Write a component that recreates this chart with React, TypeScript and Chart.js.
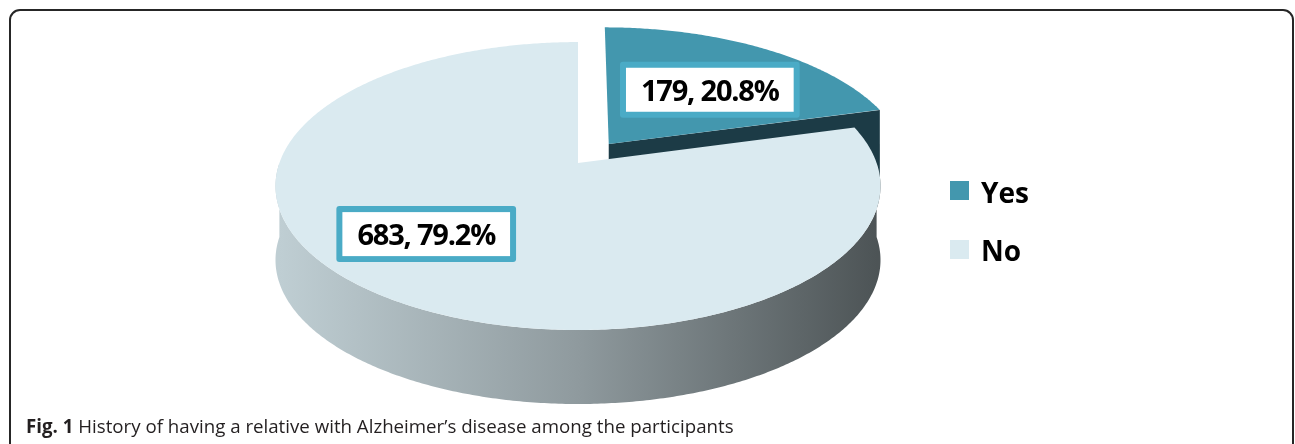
import React, { useEffect, useRef } from "react";
import { Chart, registerables } from "chart.js";

Chart.register(...registerables);

// ---- data ----
const categories = ["Yes", "No"];
const counts = [179, 683];
const percents = [20.8, 79.2];
const topColors = ["#4397ae", "#daeaf0"];
const captionLead = "Fig. 1";
const captionText = "History of having a relative with Alzheimer\u2019s disease among the participants";

// ---- perspective projection of the flat pie (circle space -> tilted disc) ----
function makeProjector(chart: any, opts: any) {
  const arc0 = chart.getDatasetMeta(0).data[0];
  const p = arc0.getProps(["x", "y", "outerRadius"], true);
  const X = p.x;
  const Y = p.y;
  const R = p.outerRadius;
  return (px: number, py: number): [number, number] => {
    const u = (px - X) / R;
    const v = (py - Y) / R;
    const w = 1 + opts.perspective * v;
    return [X + (opts.scaleX * R * u) / w, Y + (opts.scaleY * R * v) / w];
  };
}

// a context wrapper: Chart.js draws each arc through it, and its path points are projected
function projectedContext(real: CanvasRenderingContext2D, project: (x: number, y: number) => [number, number]) {
  let tx = 0;
  let ty = 0;
  const stack: [number, number][] = [];
  let hasPoint = false;
  const put = (x: number, y: number) => {
    const q = project(x + tx, y + ty);
    if (hasPoint) real.lineTo(q[0], q[1]);
    else real.moveTo(q[0], q[1]);
    hasPoint = true;
  };
  const handler: ProxyHandler<any> = {
    get(_t, prop) {
      switch (prop) {
        case "save":
          return () => {
            stack.push([tx, ty]);
            real.save();
          };
        case "restore":
          return () => {
            const s = stack.pop();
            if (s) [tx, ty] = s;
            real.restore();
          };
        case "translate":
          return (dx: number, dy: number) => {
            tx += dx;
            ty += dy;
          };
        case "beginPath":
          return () => {
            hasPoint = false;
            real.beginPath();
          };
        case "moveTo":
          return (x: number, y: number) => {
            hasPoint = false;
            put(x, y);
          };
        case "lineTo":
          return (x: number, y: number) => put(x, y);
        case "closePath":
          return () => real.closePath();
        case "arc":
          return (x: number, y: number, r: number, a0: number, a1: number, ccw?: boolean) => {
            if (![x, y, r, a0, a1].every((n) => Number.isFinite(n))) return;
            const TAU = Math.PI * 2;
            let sweep = a1 - a0;
            if (!ccw) {
              if (sweep >= TAU) sweep = TAU;
              else while (sweep < 0) sweep += TAU;
            } else {
              if (-sweep >= TAU) sweep = -TAU;
              else while (sweep > 0) sweep -= TAU;
            }
            const n = Math.max(2, Math.ceil(Math.abs(sweep) / 0.01));
            for (let i = 0; i <= n; i++) {
              const a = a0 + (sweep * i) / n;
              put(x + r * Math.cos(a), y + r * Math.sin(a));
            }
          };
      }
      const v = (real as any)[prop];
      return typeof v === "function" ? v.bind(real) : v;
    },
    set(_t, prop, value) {
      (real as any)[prop] = value;
      return true;
    },
  };
  return new Proxy(real, handler);
}

function arcGeometry(arc: any) {
  const p = arc.getProps(["x", "y", "startAngle", "endAngle", "outerRadius", "circumference"], true);
  const off = (arc.options.offset || 0) / 4;
  const mid = (p.startAngle + p.endAngle) / 2;
  const fix = 1 - Math.sin(Math.min(Math.PI, p.circumference));
  return {
    cx: p.x + Math.cos(mid) * off,
    cy: p.y + Math.sin(mid) * off,
    R: p.outerRadius + off * fix,
    r0: p.outerRadius,
    s: p.startAngle,
    e: p.endAngle,
    mid,
  };
}

// ---- 3D pie plugin ----
const pie3d = {
  id: "pie3d",
  beforeDatasetsDraw(chart: any, _args: any, opts: any) {
    const ctx: CanvasRenderingContext2D = chart.ctx;
    const arcs = chart.getDatasetMeta(0).data;
    if (!arcs.length) return;
    const project = makeProjector(chart, opts);
    const D = opts.depth;
    const items = arcs.map((arc: any, i: number) => ({ arc, i, g: arcGeometry(arc) }));
    items.sort((a: any, b: any) => project(a.g.cx, a.g.cy)[1] - project(b.g.cx, b.g.cy)[1]);

    // side walls
    for (const { i, g } of items) {
      ctx.save();
      const stops = opts.sideGradients[i];
      if (stops) {
        const l = project(g.cx - g.R, g.cy)[0];
        const r = project(g.cx + g.R, g.cy)[0];
        const gr = ctx.createLinearGradient(l, 0, r, 0);
        stops.forEach((c: string, j: number) => gr.addColorStop(j / (stops.length - 1), c));
        ctx.fillStyle = gr;
      } else {
        ctx.fillStyle = opts.sideColors[i];
      }
      const rim = (th: number) => project(g.cx + g.R * Math.cos(th), g.cy + g.R * Math.sin(th));
      const apex = project(g.cx, g.cy);
      const faces: number[] = [];
      if (Math.cos(g.s) < -0.01) faces.push(g.s);
      if (Math.cos(g.e) > 0.01) faces.push(g.e);
      for (const th of faces) {
        const q = rim(th);
        ctx.beginPath();
        ctx.moveTo(apex[0], apex[1]);
        ctx.lineTo(q[0], q[1]);
        ctx.lineTo(q[0], q[1] + D);
        ctx.lineTo(apex[0], apex[1] + D);
        ctx.closePath();
        ctx.fill();
      }
      for (const shift of [-2 * Math.PI, 0, 2 * Math.PI]) {
        const lo = Math.max(g.s, shift);
        const hi = Math.min(g.e, Math.PI + shift);
        if (hi <= lo) continue;
        const n = Math.max(2, Math.ceil((hi - lo) / 0.01));
        const pts: [number, number][] = [];
        for (let k = 0; k <= n; k++) pts.push(rim(lo + ((hi - lo) * k) / n));
        ctx.beginPath();
        pts.forEach((q, k) => (k ? ctx.lineTo(q[0], q[1]) : ctx.moveTo(q[0], q[1])));
        for (let k = pts.length - 1; k >= 0; k--) ctx.lineTo(pts[k][0], pts[k][1] + D);
        ctx.closePath();
        ctx.fill();
      }
      ctx.restore();
    }

    // top faces: drawn by Chart.js's own arc elements through the projecting context
    const pctx = projectedContext(ctx, project);
    for (const { arc } of items) arc.draw(pctx);
    return false;
  },
};

// ---- data label plugin ----
const pieLabels = {
  id: "pieLabels",
  afterDraw(chart: any, _args: any, opts: any) {
    const ctx: CanvasRenderingContext2D = chart.ctx;
    const arcs = chart.getDatasetMeta(0).data;
    if (!arcs.length) return;
    const project = makeProjector(chart, chart.options.plugins.pie3d);
    arcs.forEach((arc: any, i: number) => {
      const g = arcGeometry(arc);
      const ang = g.mid + (opts.angleShift[i] * Math.PI) / 180;
      const f = opts.radiusFraction[i];
      const [lx, ly] = project(g.cx + Math.cos(ang) * g.r0 * f, g.cy + Math.sin(ang) * g.r0 * f);
      const text = `${counts[i]}, ${percents[i].toFixed(1)}%`;
      ctx.save();
      ctx.font = opts.font;
      (ctx as any).letterSpacing = opts.letterSpacing;
      const tw = ctx.measureText(text).width;
      const bw = opts.borderWidth;
      const w = tw + 2 * opts.padX + 2 * bw;
      const h = opts.boxHeight;
      const x0 = lx - w / 2;
      const y0 = ly - h / 2;
      ctx.fillStyle = opts.borderColor;
      ctx.beginPath();
      (ctx as any).roundRect(x0, y0, w, h, 3);
      ctx.fill();
      ctx.fillStyle = "#ffffff";
      ctx.fillRect(x0 + bw, y0 + bw, w - 2 * bw, h - 2 * bw);
      ctx.fillStyle = "#000000";
      ctx.textAlign = "left";
      ctx.textBaseline = "alphabetic";
      ctx.fillText(text, lx - tw / 2, ly + opts.baselineOffset);
      ctx.restore();
    });
  },
};

export default function App() {
  const canvasRef = useRef<HTMLCanvasElement | null>(null);

  useEffect(() => {
    if (!canvasRef.current) return;
    const chart = new Chart(canvasRef.current, {
      type: "pie",
      data: {
        labels: categories,
        datasets: [
          {
            data: counts,
            backgroundColor: topColors,
            borderWidth: 0,
            offset: [210, 0],
            clip: false,
          } as any,
        ],
      },
      options: {
        animation: false,
        responsive: false,
        events: [],
        radius: 303,
        layout: { padding: { left: 0, right: 139, top: 0, bottom: 118 } },
        plugins: {
          legend: { display: false },
          tooltip: { enabled: false },
          pie3d: {
            scaleX: 0.9855,
            scaleY: 0.463,
            perspective: -0.16,
            depth: 74,
            sideColors: ["#1c3b46", "#9aa8ad"],
            sideGradients: [null, ["#bfced3", "#8f9a9e", "#4d5456"]],
          },
          pieLabels: {
            angleShift: [3.7, 7.7],
            radiusFraction: [0.573, 0.664],
            font: "bold 29px 'Open Sans'",
            letterSpacing: "-1.2px",
            padX: 15,
            borderWidth: 6,
            boxHeight: 56,
            borderColor: "#4aabc6",
            baselineOffset: 11,
          },
        } as any,
      },
      plugins: [pie3d, pieLabels],
    });
    return () => chart.destroy();
  }, []);

  return (
    <div
      style={{
        position: "absolute",
        left: 0,
        top: 0,
        width: 1295,
        height: 444,
        overflow: "hidden",
        background: "#ffffff",
      }}
    >
      <div
        style={{
          position: "absolute",
          left: 9,
          top: 9,
          width: 1285,
          height: 460,
          border: "2px solid #262626",
          borderRadius: 11,
          boxSizing: "border-box",
        }}
      />
      <canvas
        ref={canvasRef}
        width={1295}
        height={444}
        style={{ position: "absolute", left: 0, top: 0, width: 1295, height: 444 }}
      />
      {categories.map((c, i) => (
        <div key={c}>
          <div
            style={{
              position: "absolute",
              left: 950,
              top: 181 + i * 59,
              width: 19,
              height: 19,
              background: topColors[i],
            }}
          />
          <div
            style={{
              position: "absolute",
              left: 981,
              top: 178 + i * 58,
              fontFamily: "'Open Sans', sans-serif",
              fontWeight: 700,
              fontSize: 28,
              lineHeight: "28px",
              color: "#000",
              whiteSpace: "nowrap",
            }}
          >
            {c}
          </div>
        </div>
      ))}
      <div
        style={{
          position: "absolute",
          left: 26,
          top: 417,
          fontFamily: "'Open Sans', sans-serif",
          fontSize: 18.7,
          lineHeight: "18.7px",
          color: "#231f20",
          whiteSpace: "nowrap",
        }}
      >
        <b>{captionLead}</b> {captionText}
      </div>
    </div>
  );
}
